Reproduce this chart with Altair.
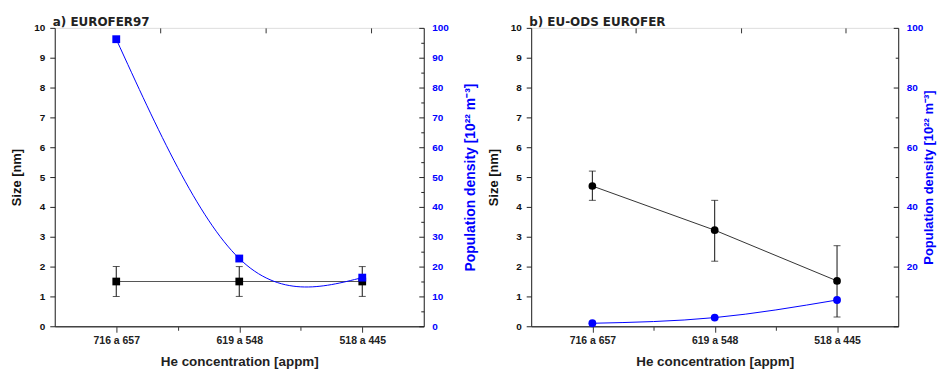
import altair as alt
import pandas as pd

FONT = "Liberation Sans"
TFONT = "DejaVu Sans"
BLUE = "#0000FF"

categories = ["716 a 657", "619 a 548", "518 a 445"]

# Panel a) EUROFER97
a_size = [1.5, 1.5, 1.5]
a_size_lo = [1.0, 1.0, 1.0]
a_size_hi = [2.0, 2.0, 2.0]
a_density = [96.2, 22.7, 16.3]

# Panel b) EU-ODS EUROFER
b_size = [4.70, 3.22, 1.52]
b_size_lo = [4.22, 2.18, 0.31]
b_size_hi = [5.20, 4.22, 2.70]
b_density = [1.0, 2.9, 8.8]

x_ticks = [1, 1.5, 2, 2.5, 3]
size_ticks = [i * 0.5 for i in range(21)]
top_ticks = [1, 2, 3]

H = 300


def make_df(size, lo, hi, dens):
    return pd.DataFrame({
        "cat": categories,
        "idx": [i + 1 for i in range(len(categories))],
        "size": size, "lo": lo, "hi": hi, "dens": dens,
    })


label_expr = "".join(f"datum.value === {i + 1} ? '{c}' : " for i, c in enumerate(categories)) + "''"

x_axis = alt.Axis(
    orient="bottom", values=x_ticks, labelExpr=label_expr,
    title="He concentration [appm]", titleFont=FONT, titleFontSize=13.5, titleFontWeight="bold",
    titleColor="#222", titlePadding=9,
    labelFont=FONT, labelFontSize=10.5, labelFontWeight="bold", labelColor="#222",
    labelPadding=3, labelFlush=False,
    tickSize={"condition": {"test": "datum.value % 1 === 0", "value": 6}, "value": 4},
    tickColor="#333", domainColor="#444", domainWidth=1.3, grid=False,
)
x_enc = alt.X("idx:Q", scale=alt.Scale(domain=[0.5, 3.5], nice=False, zero=False), axis=x_axis)

left_axis = alt.Axis(
    orient="left", values=size_ticks, format="d",
    labelExpr="datum.value % 1 === 0 ? datum.label : ''",
    title="Size [nm]", titleFont=FONT, titleFontSize=13, titleFontWeight="bold", titleColor="#111",
    titlePadding=10,
    labelFont=FONT, labelFontSize=10, labelFontWeight="bold", labelColor="#111", labelPadding=5,
    tickSize={"condition": {"test": "datum.value % 1 === 0", "value": 5}, "value": 3},
    tickColor="#222", domainColor="#222", grid=False,
)
size_scale = alt.Scale(domain=[0, 10], nice=False)
dens_scale = alt.Scale(domain=[0, 100], nice=False)

TITLE_DENS = "Population density [10²² m⁻³]"


def right_axis(step, label_test, title_pad, title_size):
    return alt.Axis(
        orient="right", values=list(range(0, 101, step)), format="d",
        labelExpr=f"{label_test} ? datum.label : ''",
        title=TITLE_DENS, titleFont=FONT, titleFontSize=title_size, titleFontWeight="bold",
        titleColor=BLUE, titlePadding=title_pad, titleAngle=270, titleBaseline="top",
        labelFont=FONT, labelFontSize=10, labelFontWeight="bold", labelColor=BLUE, labelPadding=13,
        tickSize={"condition": {"test": f"datum.value % {2 * step} === 0", "value": -5}, "value": -3},
        tickColor="#222", domainColor="#222", grid=False,
    )


def panel(df, title, shape, rax, line_color, width):
    base = alt.Chart(df)
    ys = lambda f: alt.Y(f"{f}:Q", scale=size_scale, axis=left_axis)
    yd = lambda f: alt.Y(f"{f}:Q", scale=dens_scale, axis=rax)
    left = alt.layer(
        base.mark_line(color=line_color, strokeWidth=1).encode(x=x_enc, y=ys("size")),
        base.mark_rule(color="#111", strokeWidth=1).encode(x=x_enc, y=ys("lo"), y2="hi:Q"),
        base.mark_tick(orient="horizontal", color="#111", size=7, thickness=1).encode(x=x_enc, y=ys("lo")),
        base.mark_tick(orient="horizontal", color="#111", size=7, thickness=1).encode(x=x_enc, y=ys("hi")),
        base.mark_point(shape=shape, filled=True, color="#000", size=60, opacity=1).encode(x=x_enc, y=ys("size")),
    )
    right = alt.layer(
        base.mark_line(color=BLUE, strokeWidth=1, interpolate="natural").encode(x=x_enc, y=yd("dens")),
        base.mark_point(shape=shape, filled=True, color=BLUE, size=62, opacity=1).encode(x=x_enc, y=yd("dens")),
    )
    main = alt.layer(left, right).resolve_scale(y="independent")
    top = alt.Chart(pd.DataFrame({"t": [0]})).mark_point(opacity=0).encode(
        x=alt.X("t:Q", scale=alt.Scale(domain=[0, 3.5], nice=False, zero=False),
                axis=alt.Axis(orient="top", values=top_ticks, labels=False, title=None, domain=False,
                              tickSize=alt.ExprRef("-5"), tickColor="#333", grid=False))
    )
    return alt.layer(main, top).resolve_scale(x="independent", y="independent").properties(
        width=width, height=H,
        title=alt.TitleParams(title, anchor="start", frame="group", font=TFONT, fontSize=12,
                              fontWeight="bold", color="#222", offset=-6, dx=-2),
    )


pa = panel(make_df(a_size, a_size_lo, a_size_hi, a_density), "a) EUROFER97", "square",
           right_axis(5, "datum.value % 10 === 0", 15, 14), "#555", 371)
pb = panel(make_df(b_size, b_size_lo, b_size_hi, b_density), "b) EU-ODS EUROFER", "circle",
           right_axis(10, "datum.value % 20 === 0 && datum.value > 0", 0, 13), "#333", 369)

chart = alt.hconcat(pa, pb, spacing=8).properties(
    padding={"left": 2, "top": 6, "right": 0, "bottom": 0}
).configure_view(stroke="#444", strokeWidth=1).configure(background="white")

chart.save("out.html", embed_options={"renderer": "svg", "actions": False})
